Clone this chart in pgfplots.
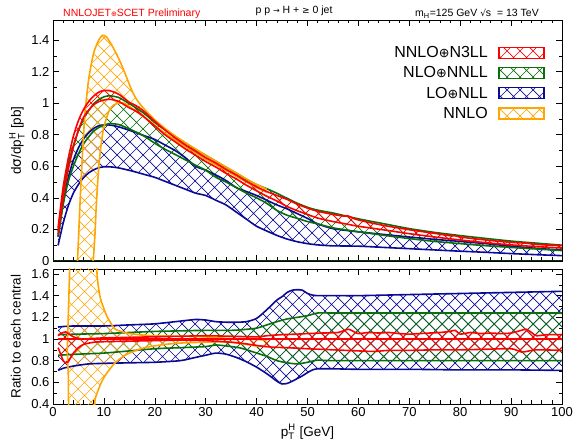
\documentclass[border=0pt]{standalone}
\usepackage{fontspec}
\setmainfont{Liberation Sans}
\newfontfamily\sym{DejaVu Sans}
\usepackage{amsmath}
\usepackage{graphicx}
\usepackage{pgfplots}
\pgfplotsset{compat=1.18}
\usepgfplotslibrary{fillbetween}
\usetikzlibrary{patterns}

\definecolor{cred}{RGB}{255,0,0}
\definecolor{cgreen}{RGB}{10,110,10}
\definecolor{cblue}{RGB}{10,10,150}
\definecolor{corange}{RGB}{255,165,0}

\pgfdeclarepatternformonly{xhatch}{\pgfqpoint{-1pt}{-1pt}}{\pgfqpoint{14pt}{14pt}}{\pgfqpoint{13pt}{13pt}}{%
  \pgfsetlinewidth{0.7pt}%
  \pgfpathmoveto{\pgfqpoint{0pt}{0pt}}\pgfpathlineto{\pgfqpoint{13.1pt}{13.1pt}}%
  \pgfpathmoveto{\pgfqpoint{0pt}{13pt}}\pgfpathlineto{\pgfqpoint{13.1pt}{-0.1pt}}%
  \pgfusepath{stroke}}

\newcommand{\op}{{\sym\scalebox{0.8}{⊕}}}

\pgfplotsset{
  myaxis/.style={
    scale only axis, anchor=south west,
    width=509pt, xmin=0, xmax=100,
    xtick={0,10,...,100}, minor x tick num=4,
    minor y tick num=1,
    tick align=inside, major tick length=6pt, minor tick length=3.5pt,
    tick style={black, line width=0.6pt},
    axis line style={line width=0.8pt},
    /pgf/number format/assume math mode=true,
    ticklabel style={font=\fontsize{13}{14}\selectfont},
    label style={font=\fontsize{13.5}{15}\selectfont},
  },
  bandline/.style={line width=1.6pt, smooth, tension=0.4, forget plot},
}

\begin{document}
\begin{tikzpicture}

% header
\node[anchor=base west, text=cred, font=\fontsize{10.5}{12}\selectfont, inner sep=0pt] at (63pt,424pt) {NNLOJET{\sym\fontsize{7}{8}\selectfont ⊕}SCET Preliminary};
\node[anchor=base, font=\fontsize{10.5}{12}\selectfont, inner sep=0pt] at (294pt,427pt) {p p {\sym\fontsize{8}{9}\selectfont →} H + {\sym\fontsize{9}{10}\selectfont ≥} 0 jet};
\node[anchor=base east, font=\fontsize{10.5}{12}\selectfont, inner sep=0pt] at (539pt,424pt) {m\textsubscript{H}=125 GeV {\sym\fontsize{9}{10}\selectfont √}s \ = 13 TeV};

% ---------------- top panel ----------------
\begin{axis}[myaxis, at={(53pt,180pt)}, height=241pt,
  ymin=0, ymax=1.527, ytick={0,0.2,0.4,0.6,0.8,1,1.2,1.4},
  xticklabels={},
  ylabel={d{\sym σ}/dp$^{\text{H}}_{\text{T}}$ [pb]},
  ylabel style={at={(axis description cs:-0.071,0.5)}, anchor=center},
  legend cell align=right, legend plot pos=right,
  legend style={at={(0.972,0.905)}, anchor=north east, draw=none, fill=none,
    font=\fontsize{16}{18}\selectfont, row sep=4.5pt, column sep=9pt, nodes={inner sep=1.5pt}},
  legend image code/.code={\draw[#1, line width=1.3pt, pattern=xhatch] (0pt,-5.5pt) rectangle (45pt,5.5pt);},
]
\addplot[black!60!cgreen, line width=1.4pt, forget plot] coordinates {(0,0)(100,0)};
% blue LO+NLL
\addplot[cblue, bandline, name path=bu] coordinates {(1,0.155)(2,0.37)(3,0.527)(4,0.64)(5,0.717)(6,0.773)(7,0.812)(8,0.84)(9,0.857)(10,0.862)(11,0.862)(12,0.857)(13,0.849)(14,0.839)(16,0.817)(18,0.793)(20,0.770)(22,0.735)(24,0.700)(26,0.655)(28,0.60)(30,0.575)(32,0.545)(34,0.51)(36,0.465)(38,0.44)(40,0.415)(42,0.385)(44,0.355)(46,0.33)(48,0.30)(50,0.27)(52,0.235)(55,0.205)(60,0.185)(65,0.168)(70,0.152)(75,0.137)(80,0.124)(85,0.110)(90,0.094)(95,0.080)(100,0.069)};
\addplot[cblue, bandline, name path=bl] coordinates {(1,0.099)(2,0.24)(3,0.35)(4,0.43)(5,0.485)(6,0.528)(7,0.558)(8,0.578)(9,0.591)(10,0.597)(11,0.597)(12,0.594)(13,0.589)(14,0.582)(16,0.566)(18,0.548)(20,0.530)(22,0.505)(24,0.48)(26,0.455)(28,0.43)(30,0.415)(32,0.385)(34,0.355)(36,0.31)(38,0.265)(40,0.22)(42,0.19)(44,0.162)(46,0.139)(48,0.122)(50,0.11)(52,0.102)(55,0.096)(60,0.094)(65,0.086)(70,0.078)(75,0.070)(80,0.062)(85,0.055)(90,0.047)(95,0.040)(100,0.034)};
\addplot[pattern=xhatch, pattern color=cblue, forget plot] fill between[of=bu and bl];
% green NLO+NNLL
\addplot[cgreen, bandline, name path=gu] coordinates {(1,0.187)(2,0.438)(3,0.615)(4,0.731)(5,0.826)(6,0.900)(7,0.953)(8,0.996)(9,1.023)(10,1.040)(11,1.047)(12,1.043)(13,1.035)(14,1.016)(16,0.977)(18,0.933)(20,0.877)(22,0.831)(24,0.789)(26,0.748)(28,0.706)(30,0.670)(32,0.632)(34,0.594)(36,0.557)(38,0.518)(40,0.484)(42,0.458)(44,0.429)(46,0.397)(48,0.366)(50,0.340)(52,0.322)(55,0.304)(60,0.267)(65,0.236)(70,0.205)(75,0.181)(80,0.161)(85,0.143)(90,0.126)(95,0.113)(100,0.100)};
\addplot[cgreen, bandline, name path=gl] coordinates {(1,0.153)(2,0.358)(3,0.504)(4,0.600)(5,0.679)(6,0.741)(7,0.786)(8,0.823)(9,0.846)(10,0.861)(11,0.870)(12,0.869)(13,0.864)(14,0.851)(16,0.822)(18,0.789)(20,0.746)(22,0.708)(24,0.675)(26,0.641)(28,0.607)(30,0.575)(32,0.53)(34,0.50)(36,0.465)(38,0.43)(40,0.40)(42,0.365)(44,0.32)(46,0.29)(48,0.27)(50,0.25)(52,0.235)(55,0.21)(60,0.185)(65,0.163)(70,0.142)(75,0.124)(80,0.11)(85,0.097)(90,0.086)(95,0.076)(100,0.066)};
\addplot[pattern=xhatch, pattern color=cgreen, forget plot] fill between[of=gu and gl];
% orange NNLO
\addplot[corange, bandline, name path=ou] coordinates {(4.2,-0.3)(4.8,0)(5.5,0.5)(6.2,0.9)(7,1.15)(8,1.32)(9,1.40)(9.7,1.43)(10.5,1.42)(11.5,1.37)(12.5,1.31)(13.5,1.24)(14.5,1.16)(15.5,1.08)(16.5,1.02)(18,0.96)(20,0.895)(22,0.84)(25,0.77)(28,0.71)(30,0.67)(32,0.632)(35,0.577)(38,0.52)(40,0.485)(42,0.455)};
\addplot[corange, bandline, name path=ol] coordinates {(4.2,-1.5)(7.9,0)(8.5,0.35)(9,0.6)(9.5,0.75)(10,0.85)(11,0.95)(12,0.99)(13,1.0)(14,1.0)(15,0.98)(16,0.955)(18,0.91)(20,0.86)(22,0.81)(25,0.745)(28,0.685)(30,0.645)(32,0.61)(35,0.555)(38,0.5)(40,0.465)(42,0.435)};
\addplot[pattern=xhatch, pattern color=corange, forget plot] fill between[of=ou and ol];
% red NNLO+N3LL
\addplot[cred, bandline, name path=ru] coordinates {(1,0.21)(2,0.47)(3,0.65)(4,0.79)(5,0.89)(6,0.96)(7,1.01)(8,1.045)(9,1.07)(10,1.08)(11,1.08)(12,1.07)(13,1.055)(14,1.03)(15,1.005)(16,0.99)(17,0.97)(18,0.945)(20,0.885)(22,0.83)(24,0.78)(26,0.735)(28,0.695)(30,0.655)(32,0.62)(34,0.58)(36,0.545)(38,0.505)(40,0.47)(42,0.44)(44,0.415)(46,0.39)(48,0.36)(50,0.335)(52,0.315)(55,0.295)(57,0.285)(58,0.285)(59,0.27)(60,0.26)(62,0.245)(65,0.225)(70,0.198)(75,0.175)(78,0.16)(79,0.16)(80,0.152)(85,0.133)(90,0.118)(93,0.113)(95,0.105)(100,0.097)};
\addplot[cred, bandline, name path=rl] coordinates {(1,0.17)(2,0.40)(3,0.58)(4,0.72)(5,0.83)(6,0.91)(7,0.955)(8,0.99)(9,1.01)(10,1.02)(11,1.025)(12,1.02)(13,1.01)(14,0.99)(15,0.97)(16,0.955)(17,0.935)(18,0.91)(20,0.855)(22,0.80)(24,0.755)(26,0.71)(28,0.67)(30,0.63)(32,0.595)(34,0.555)(36,0.52)(38,0.48)(40,0.445)(42,0.41)(44,0.38)(46,0.345)(48,0.318)(50,0.295)(52,0.272)(55,0.25)(58,0.232)(60,0.22)(65,0.197)(70,0.173)(75,0.152)(80,0.133)(85,0.116)(90,0.102)(95,0.091)(100,0.082)};
\addplot[pattern=xhatch, pattern color=cred, forget plot] fill between[of=ru and rl];

\addlegendimage{draw=cred, pattern color=cred}
\addlegendentry{NNLO\op N3LL}
\addlegendimage{draw=cgreen, pattern color=cgreen}
\addlegendentry{NLO\op NNLL}
\addlegendimage{draw=cblue, pattern color=cblue}
\addlegendentry{LO\op NLL}
\addlegendimage{draw=corange, pattern color=corange}
\addlegendentry{NNLO}
\end{axis}

% ---------------- ratio panel ----------------
\begin{axis}[myaxis, at={(53pt,37pt)}, height=135pt,
  ymin=0.4, ymax=1.646, ytick={0.4,0.6,0.8,1,1.2,1.4,1.6},
  ylabel={Ratio to each central},
  ylabel style={at={(axis description cs:-0.073,0.5)}, anchor=center},
  xlabel={p$^{\text{H}}_{\text{T}}$ [GeV]},
  xlabel style={at={(axis description cs:0.5,0)}, yshift=-32pt, anchor=base},
]
% blue
\addplot[cblue, bandline, name path=bru] coordinates {(1,1.11)(2,1.115)(4,1.12)(7,1.12)(10,1.12)(15,1.13)(20,1.14)(25,1.165)(28,1.18)(30,1.175)(32,1.16)(34,1.155)(36,1.155)(38,1.16)(40,1.19)(42,1.27)(44,1.36)(45,1.39)(46,1.43)(47,1.45)(48,1.455)(49,1.45)(50,1.42)(51,1.405)(52,1.40)(55,1.40)(60,1.40)(70,1.41)(80,1.42)(90,1.43)(100,1.44)};
\addplot[cblue, bandline, name path=brl] coordinates {(1,0.71)(2,0.73)(4,0.75)(7,0.77)(10,0.775)(15,0.78)(20,0.785)(25,0.80)(28,0.83)(30,0.85)(32,0.87)(34,0.86)(36,0.83)(38,0.79)(40,0.74)(42,0.68)(44,0.61)(45,0.585)(46,0.59)(47,0.61)(48,0.635)(49,0.66)(50,0.69)(51,0.715)(52,0.725)(55,0.725)(60,0.72)(70,0.72)(80,0.715)(90,0.715)(100,0.71)};
\addplot[pattern=xhatch, pattern color=cblue, forget plot] fill between[of=bru and brl];
% green
\addplot[cgreen, bandline, name path=gru] coordinates {(1,1.04)(5,1.045)(10,1.05)(15,1.06)(20,1.07)(25,1.075)(30,1.08)(35,1.08)(37,1.085)(40,1.10)(42,1.13)(44,1.16)(46,1.185)(48,1.20)(50,1.215)(52,1.24)(55,1.24)(70,1.24)(85,1.24)(100,1.24)};
\addplot[cgreen, bandline, name path=grl] coordinates {(1,0.85)(5,0.86)(10,0.87)(15,0.89)(20,0.91)(25,0.92)(30,0.93)(32,0.945)(35,0.93)(37,0.915)(40,0.87)(42,0.84)(44,0.80)(46,0.78)(48,0.77)(50,0.785)(52,0.805)(55,0.80)(70,0.80)(85,0.80)(100,0.80)};
\addplot[pattern=xhatch, pattern color=cgreen, forget plot] fill between[of=gru and grl];
% orange
\addplot[corange, bandline, name path=oru] coordinates {(2.8,0.9)(3.3,1.7)(3.6,2.5)(8.3,2.5)(8.6,1.65)(9.2,1.4)(10,1.28)(10.7,1.2)(12,1.1)(13,1.075)(15,1.05)(18,1.035)(20,1.03)(25,1.025)(30,1.02)(33,1.01)(36,1.0)(40,0.995)(42,0.99)};
\addplot[corange, bandline, name path=orl] coordinates {(2.8,0.9)(3.0,0.68)(3.4,0.3)(7.8,0.3)(8.3,0.45)(9.5,0.6)(10.5,0.68)(12,0.77)(13.5,0.83)(15,0.87)(18,0.92)(22,0.95)(26,0.965)(30,0.97)(34,0.975)(36,0.965)(38,0.95)(40,0.935)(42,0.93)};
\addplot[pattern=xhatch, pattern color=corange, forget plot] fill between[of=oru and orl];
% red
\addplot[cred, bandline, name path=rru] coordinates {(1,1.03)(1.5,1.05)(2,1.06)(2.5,1.065)(3,1.05)(4,1.02)(5,1.005)(6,1.0)(8,1.005)(10,1.01)(15,1.015)(20,1.02)(25,1.025)(30,1.03)(35,1.025)(40,1.02)(42,1.03)(45,1.04)(48,1.045)(50,1.05)(53,1.055)(56,1.06)(58,1.09)(59,1.07)(60,1.05)(62,1.06)(64,1.055)(66,1.06)(68,1.05)(70,1.045)(72,1.05)(74,1.055)(76,1.06)(78,1.07)(79,1.08)(80,1.045)(82,1.06)(84,1.05)(86,1.055)(88,1.05)(90,1.055)(92,1.08)(93,1.09)(94,1.06)(95,1.03)(97,1.04)(100,1.04)};
\addplot[cred, bandline, name path=rrl] coordinates {(1,0.92)(1.5,0.86)(2,0.80)(2.5,0.78)(3,0.79)(3.5,0.83)(4,0.87)(5,0.92)(6,0.95)(8,0.97)(10,0.975)(15,0.98)(20,0.985)(25,0.99)(30,0.985)(35,0.97)(38,0.955)(40,0.94)(43,0.925)(46,0.92)(50,0.91)(55,0.90)(60,0.89)(63,0.885)(66,0.895)(70,0.895)(75,0.90)(80,0.90)(85,0.905)(90,0.91)(92,0.88)(93,0.885)(95,0.90)(100,0.895)};
\addplot[pattern=xhatch, pattern color=cred, forget plot] fill between[of=rru and rrl];
\addplot[cred, line width=1.6pt, forget plot] coordinates {(1,1)(100,1)};
\end{axis}

\pgfresetboundingbox
\path[use as bounding box] (0pt,0pt) rectangle (577pt,441pt);
\end{tikzpicture}
\end{document}
